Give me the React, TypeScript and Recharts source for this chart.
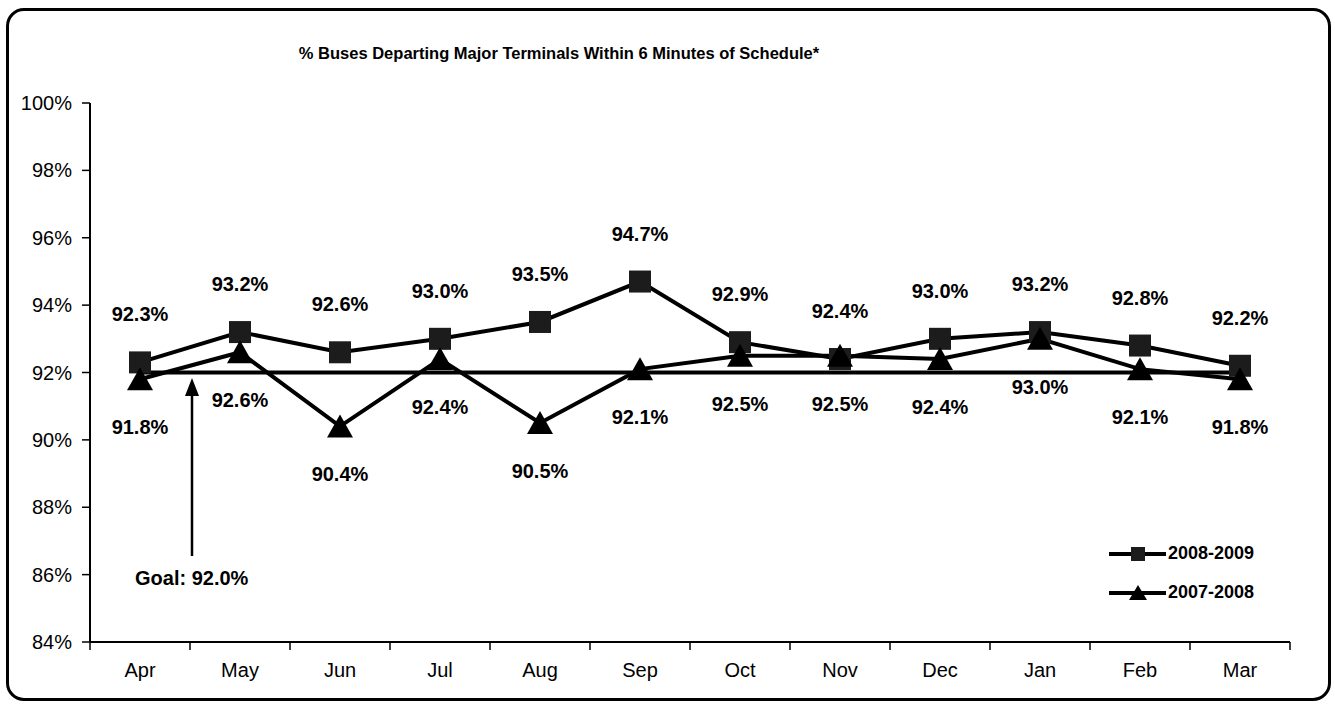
import React from 'react';
import { LineChart, Line, XAxis, YAxis, Legend, LabelList } from 'recharts';

const months = ['Apr', 'May', 'Jun', 'Jul', 'Aug', 'Sep', 'Oct', 'Nov', 'Dec', 'Jan', 'Feb', 'Mar'];
const fy0809 = [92.3, 93.2, 92.6, 93.0, 93.5, 94.7, 92.9, 92.4, 93.0, 93.2, 92.8, 92.2];
const fy0708 = [91.8, 92.6, 90.4, 92.4, 90.5, 92.1, 92.5, 92.5, 92.4, 93.0, 92.1, 91.8];
const goal = [92.0, 92.0, 92.0, 92.0, 92.0, 92.0, 92.0, 92.0, 92.0, 92.0, 92.0, 92.0];
const yTicks = [84, 86, 88, 90, 92, 94, 96, 98, 100];
const seriesNames = ['2008-2009', '2007-2008'];

const data = months.map((m, i) => ({ month: m, a: fy0809[i], b: fy0708[i], goal: goal[i] }));

const FONT = '"Liberation Sans", Arial, sans-serif';
const W = 1335;
const H = 704;
const LEFT = 90;
const RIGHT = 45;
const BAND = (W - LEFT - RIGHT) / months.length;

const MonthTick = (props: any) => {
  const { x, y, payload, index } = props;
  return (
    <g>
      <line x1={x - BAND / 2} x2={x - BAND / 2} y1={y} y2={y + 8} stroke="#000" strokeWidth={1.5} />
      {index === months.length - 1 && (
        <line x1={x + BAND / 2} x2={x + BAND / 2} y1={y} y2={y + 8} stroke="#000" strokeWidth={1.5} />
      )}
      <text x={x} y={y + 28} textAnchor="middle" dominantBaseline="central" fontSize={20} fontFamily={FONT} fill="#000">
        {payload.value}
      </text>
    </g>
  );
};

const SquareDot = (p: any) => (
  <rect key={'s' + p.index} x={p.cx - 11} y={p.cy - 11} width={22} height={22} fill="#1c1c1c" />
);

const TriDot = (p: any) => (
  <polygon
    key={'t' + p.index}
    points={`${p.cx},${p.cy - 12} ${p.cx - 13},${p.cy + 11} ${p.cx + 13},${p.cy + 11}`}
    fill="#000"
  />
);

const labelAbove = (p: any) => (
  <text key={'la' + p.index} x={p.x} y={p.y - 48} textAnchor="middle" dominantBaseline="central"
    fontSize={20} fontWeight="bold" fontFamily={FONT} fill="#000">
    {Number(p.value).toFixed(1)}%
  </text>
);

const labelBelow = (p: any) => (
  <text key={'lb' + p.index} x={p.x} y={p.y + 48} textAnchor="middle" dominantBaseline="central"
    fontSize={20} fontWeight="bold" fontFamily={FONT} fill="#000">
    {Number(p.value).toFixed(1)}%
  </text>
);

const renderLegend = () => (
  <div style={{ fontFamily: FONT, fontWeight: 'bold', fontSize: 18, color: '#000' }}>
    {seriesNames.map((name, i) => (
      <div key={name} style={{ display: 'flex', alignItems: 'center', height: 39 }}>
        <svg width={60} height={24}>
          <line x1={1} x2={58} y1={12} y2={12} stroke="#000" strokeWidth={4} />
          {i === 0 ? (
            <rect x={23} y={5} width={14} height={14} fill="#1c1c1c" />
          ) : (
            <polygon points="30,4 21,19 39,19" fill="#000" />
          )}
        </svg>
        <span>{name}</span>
      </div>
    ))}
  </div>
);

export default function App() {
  return (
    <div style={{ position: 'relative', width: W, height: H, background: '#fff', fontFamily: FONT }}>
      <style>{'body{margin:0}'}</style>
      <div
        style={{
          position: 'absolute', left: 6, top: 8, width: 1319, height: 687,
          border: '3px solid #000', borderRadius: 18,
        }}
      />
      <div
        style={{
          position: 'absolute', left: 259, top: 42, width: 600, textAlign: 'center',
          fontSize: 16.5, fontWeight: 'bold', color: '#000', lineHeight: '22px',
        }}
      >
        % Buses Departing Major Terminals Within 6 Minutes of Schedule*
      </div>
      <div style={{ position: 'absolute', left: 0, top: 0 }}>
        <LineChart width={W} height={H} data={data} margin={{ top: 103, right: RIGHT, bottom: 0, left: 0 }}>
          <XAxis
            dataKey="month"
            interval={0}
            height={62}
            padding={{ left: BAND / 2, right: BAND / 2 }}
            tickLine={false}
            tickSize={0}
            tickMargin={0}
            axisLine={{ stroke: '#000', strokeWidth: 2 }}
            tick={<MonthTick />}
          />
          <XAxis
            xAxisId="top"
            dataKey="month"
            orientation="top"
            height={0}
            tick={false}
            tickLine={false}
            axisLine={{ stroke: '#000', strokeWidth: 1.5 }}
          />
          <YAxis
            domain={[84, 100]}
            ticks={yTicks}
            interval={0}
            width={LEFT}
            tickSize={8}
            tickMargin={10}
            tickFormatter={(v: number) => `${v}%`}
            tick={{ fontSize: 20, fill: '#000', fontFamily: FONT }}
            tickLine={{ stroke: '#000', strokeWidth: 1.5 }}
            axisLine={{ stroke: '#000', strokeWidth: 2 }}
          />
          <YAxis
            yAxisId="r"
            orientation="right"
            domain={[84, 100]}
            width={0}
            tick={false}
            tickLine={false}
            axisLine={{ stroke: '#000', strokeWidth: 1.5 }}
          />
          <Legend
            layout="vertical"
            align="center"
            verticalAlign="middle"
            content={renderLegend}
            wrapperStyle={{ left: 1108, top: 534, width: 200 }}
          />
          <Line dataKey="goal" stroke="#000" strokeWidth={4} dot={false} isAnimationActive={false} legendType="none" />
          <Line dataKey="a" name={seriesNames[0]} stroke="#000" strokeWidth={4} dot={SquareDot} activeDot={false}
            isAnimationActive={false}>
            <LabelList dataKey="a" content={labelAbove} />
          </Line>
          <Line dataKey="b" name={seriesNames[1]} stroke="#000" strokeWidth={4} dot={TriDot} activeDot={false}
            isAnimationActive={false}>
            <LabelList dataKey="b" content={labelBelow} />
          </Line>
        </LineChart>
      </div>
      <svg style={{ position: 'absolute', left: 0, top: 0 }} width={W} height={H}>
        <line x1={192} x2={192} y1={556} y2={392} stroke="#000" strokeWidth={2.5} />
        <polygon points="192,378 185,396 199,396" fill="#000" />
      </svg>
      <div
        style={{
          position: 'absolute', left: 135, top: 566, fontSize: 20, fontWeight: 'bold',
          color: '#000', lineHeight: '24px', whiteSpace: 'nowrap',
        }}
      >
        Goal: 92.0%
      </div>
    </div>
  );
}
